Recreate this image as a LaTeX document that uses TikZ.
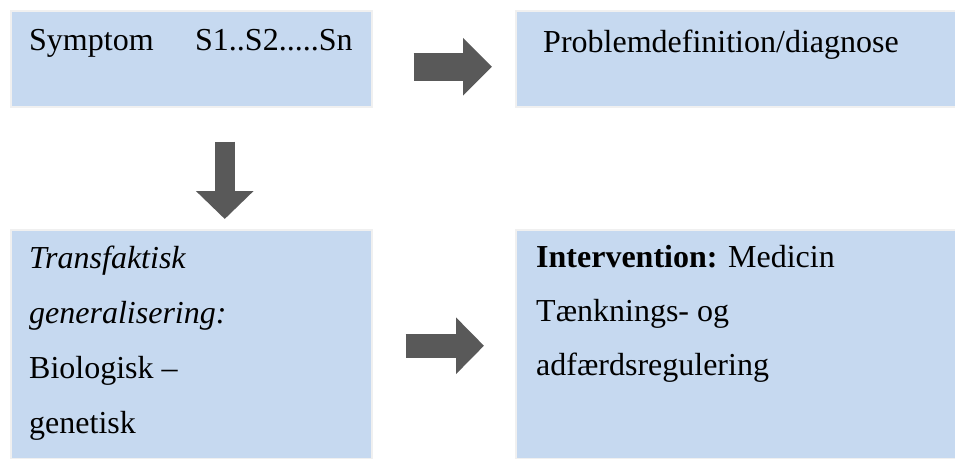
\documentclass[tikz,border=0pt]{standalone}
\usepackage{fontspec}
\setmainfont{Liberation Serif}
\usetikzlibrary{arrows.meta,positioning}

\definecolor{boxblue}{HTML}{C6D9F0}
\definecolor{arrowgrey}{HTML}{595959}

\tikzset{
  box/.style={fill=boxblue, draw=black!6, line width=1.5pt, anchor=north west, inner sep=0pt},
  txt/.style={anchor=base west, inner sep=0pt, align=left, font=\fontsize{32}{55}\selectfont},
  blockarrow/.style={draw=arrowgrey, line width=#1}
}

\begin{document}
\begin{tikzpicture}[x=1pt,y=-1pt]
        \useasboundingbox (0,0) rectangle (955,458);

        \node[box, minimum width=361pt, minimum height=96pt] at (10,10) (sym){};
        \node[box, minimum width=440pt, minimum height=96pt] at (515,10) (prob){};
        \node[box, minimum width=361pt, minimum height=229pt] at (10,229) (gen){};
        \node[box, minimum width=440pt, minimum height=229pt] at (515,229) (int){};

        % base = last line of the text
        \node[txt] at (29,50) (symt){Symptom};
        \node[txt] at (195,50) (st){S1..S2.....Sn};
        \node[txt] at (543,52) (probt){Problemdefinition/diagnose};
        \node[txt] at (29,433) (gent){\textit{Transfaktisk}\\\textit{generalisering:}\\Biologisk --\\genetisk};
        \node[txt, font=\fontsize{32}{54}\selectfont] at (536,375) (intt){\textbf{Intervention:} Medicin\\Tænknings- og\\adfærdsregulering};

        \draw[blockarrow=28pt, -{Triangle[length=29pt,width=56pt]}, shorten <=41pt, shorten >=23pt]
        ([shift={(0,8)}]sym.east) -- ([shift={(0,8)}]prob.west);
        \draw[blockarrow=20pt, -{Triangle[length=28pt,width=56pt]}, shorten <=34pt, shorten >=10pt]
        ([shift={(33.5,0)}]sym.south) -- ([shift={(33.5,0)}]gen.north);
        \draw[blockarrow=24pt, -{Triangle[length=28pt,width=55pt]}, shorten <=33pt, shorten >=31pt]
        ([shift={(0,1.5)}]gen.east) -- ([shift={(0,1.5)}]int.west);
    \end{tikzpicture}
\end{document}
